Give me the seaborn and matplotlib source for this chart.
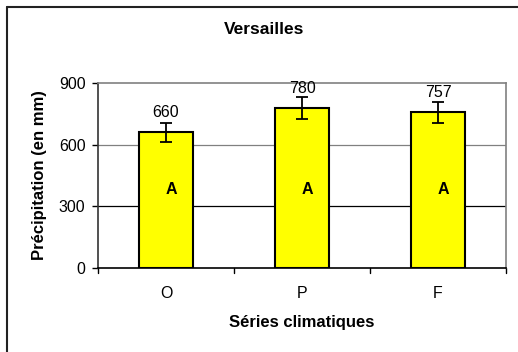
import matplotlib
matplotlib.use("Agg")
import matplotlib.pyplot as plt
import seaborn as sns
import pandas as pd
from matplotlib.lines import Line2D

# Data
series = ["O", "P", "F"]
precip = [660, 780, 757]
errors = [46, 54, 53]
groups = ["A", "A", "A"]

sns.set_style("white")
plt.rcParams['font.family'] = ['Liberation Sans', 'DejaVu Sans']
plt.rcParams['text.color'] = 'black'
plt.rcParams['axes.labelcolor'] = 'black'
plt.rcParams['xtick.color'] = 'black'
plt.rcParams['ytick.color'] = 'black'

df = pd.DataFrame({"serie": series, "precip": precip})

fig = plt.figure(figsize=(5.18, 3.52), dpi=100)
ax = fig.add_axes([98 / 518, 1 - 268 / 352, 408 / 518, 185 / 352])

sns.barplot(data=df, x="serie", y="precip", color="#ffff00", edgecolor="black",
            linewidth=1.5, width=0.4, saturation=1, ax=ax, zorder=3)

# error bars and labels
for bar, val, err, grp in zip(ax.patches, precip, errors, groups):
    cx = bar.get_x() + bar.get_width() / 2
    ax.errorbar(cx, val, yerr=err, color="black", capsize=4.5, elinewidth=1.3,
                capthick=1.3, zorder=4)
    ax.annotate(str(val), (cx, val), xytext=(0, 14), textcoords="offset points",
                ha="center", va="center", fontsize=11.5)
    ax.text(cx + 0.04, 380, grp, ha="center", va="center", fontsize=11.5,
            fontweight="bold", zorder=5)

ax.set_ylim(0, 900)
ax.set_xlim(-0.5, 2.5)
ax.set_yticks([0, 300, 600, 900])
ax.tick_params(axis="y", labelsize=11.5, length=4, width=1, direction="out", left=True, pad=5)
ax.tick_params(axis="x", labelsize=11.5, length=0, pad=13)

# category boundary ticks on x axis
for xb in [-0.5, 0.5, 1.5, 2.5]:
    ax.plot([xb, xb], [0, -0.025], transform=ax.get_xaxis_transform(), color="black",
            lw=1, clip_on=False)

# gridlines
ax.axhline(300, color="black", lw=0.9, zorder=1)
ax.axhline(600, color="#808080", lw=0.9, zorder=1)

for side in ["top", "right"]:
    ax.spines[side].set_color("#808080")
    ax.spines[side].set_linewidth(1.2)
ax.spines["left"].set_color("#333333")
ax.spines["left"].set_linewidth(1.2)
ax.spines["bottom"].set_color("black")
ax.spines["bottom"].set_linewidth(1.2)

ax.set_xlabel("Séries climatiques", fontsize=12, fontweight="bold", va="center")
ax.set_ylabel("Précipitation (en mm)", fontsize=12, fontweight="bold", va="center")
ax.xaxis.set_label_coords(0.5, (268 - 322) / 185)
ax.yaxis.set_label_coords((40 - 98) / 408, 0.5)

fig.text(264 / 518, 1 - 29 / 352, "Versailles", ha="center", va="center",
         fontsize=12.5, fontweight="bold")

# chart frame (only top and left visible in the crop)
fig.add_artist(Line2D([6.5 / 518, 1.01], [1 - 6.5 / 352, 1 - 6.5 / 352],
                      transform=fig.transFigure, color="#222222", lw=1.5))
fig.add_artist(Line2D([6.5 / 518, 6.5 / 518], [-0.01, 1 - 6.5 / 352],
                      transform=fig.transFigure, color="#222222", lw=1.5))

fig.savefig("out.png", dpi=100)
